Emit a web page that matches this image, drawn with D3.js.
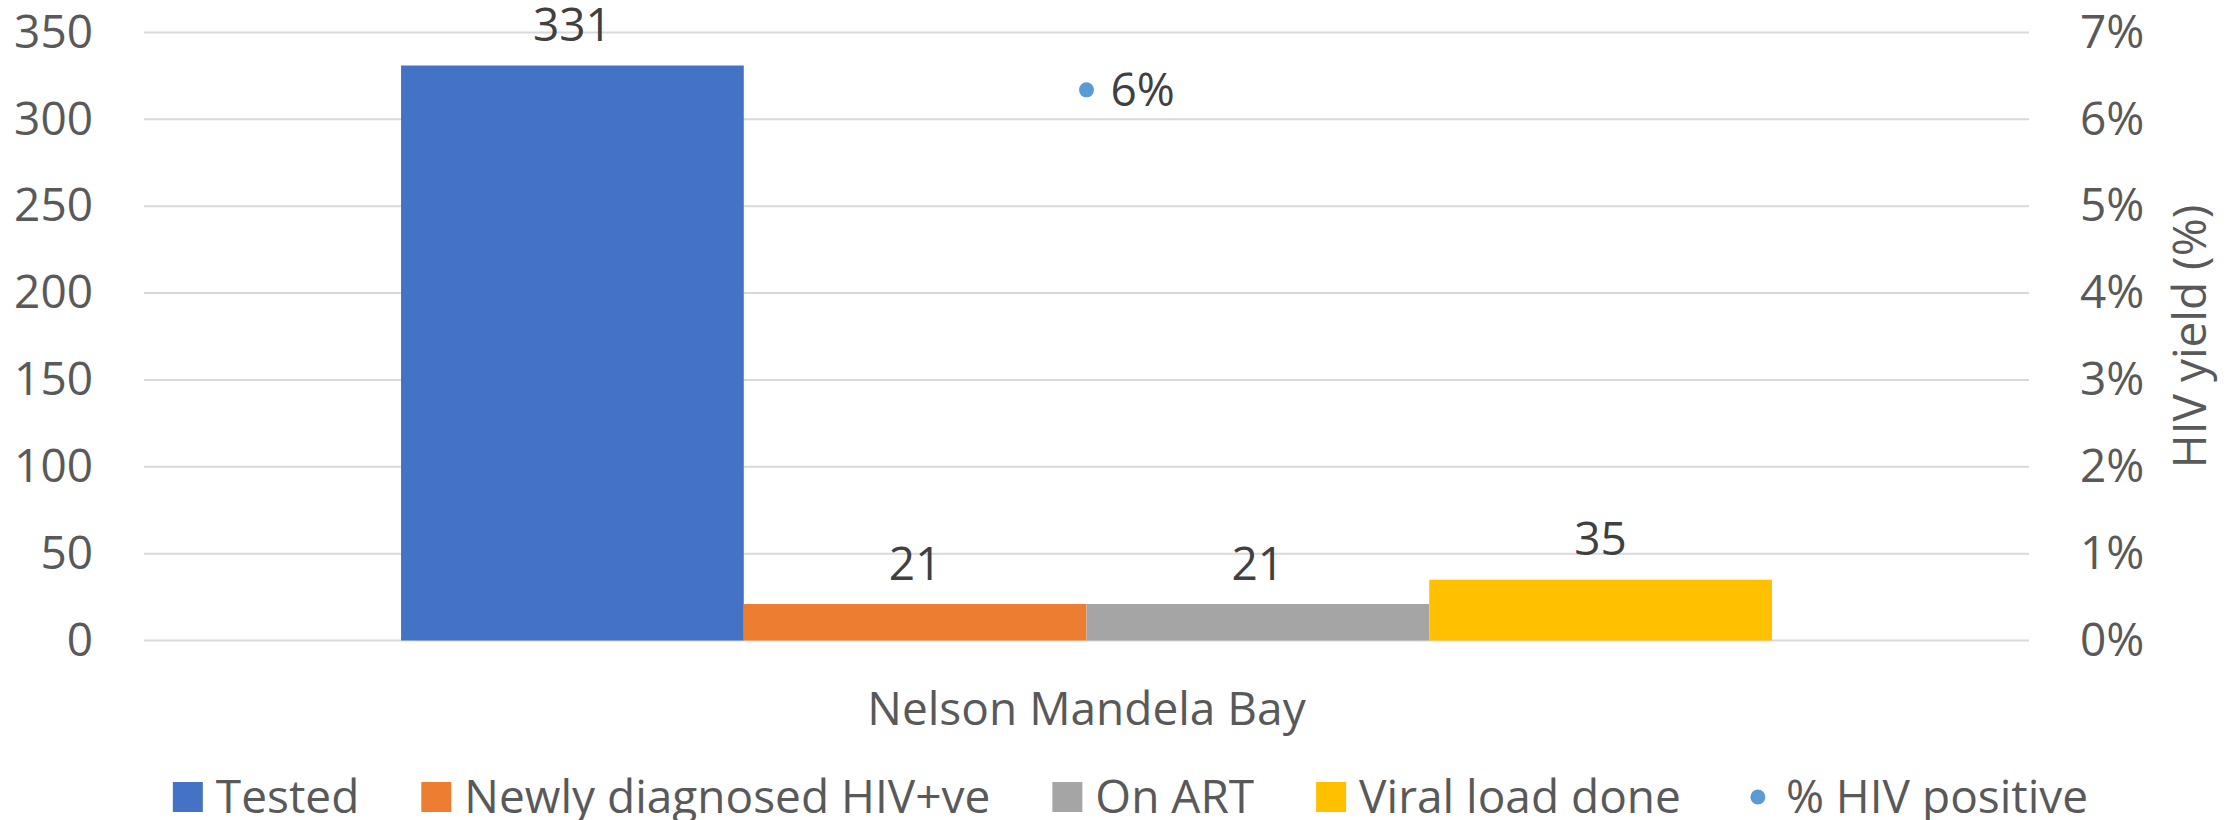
<!DOCTYPE html>
<html><head><meta charset="utf-8">
<script src="https://cdn.jsdelivr.net/npm/d3@7"></script>
<style>html,body{margin:0;padding:0;background:#fff;}svg{display:block;}</style>
</head><body><svg id="chart" width="2237" height="820"></svg>
<script>
const categories = ["Nelson Mandela Bay"];
const seriesNames = ["Tested", "Newly diagnosed HIV+ve", "On ART", "Viral load done"];
const tested = [331];
const newlyDiagnosed = [21];
const onART = [21];
const viralLoadDone = [35];
const pctPositive = [0.0634];
const pctLabels = ["6%"];
const leftTicks = [0, 50, 100, 150, 200, 250, 300, 350];
const rightTicks = [0, 0.01, 0.02, 0.03, 0.04, 0.05, 0.06, 0.07];
const colors = ["#4472C4", "#ED7D31", "#A5A5A5", "#FFC000"];
const dotColor = "#5B9BD5";
const lineName = "% HIV positive";
const rightTitle = "HIV yield (%)";

const svg = d3.select("#chart");
const FONT = "'Open Sans', sans-serif";
const FS = 46;
const m = {left: 144, right: 2029, top: 32.5, bottom: 640.5};

const x0 = d3.scaleBand().domain(categories).range([m.left, m.right]).paddingInner(0).paddingOuter(0);
const y = d3.scaleLinear().domain([0, 350]).range([m.bottom, m.top]);
const y2 = d3.scaleLinear().domain([0, 0.07]).range([m.bottom, m.top]);
// gap width 150%: bar width = band/(4+1.5)
const groupW = x0.bandwidth() * 4 / 5.5;
const x1 = d3.scaleBand().domain(seriesNames).range([0, groupW]).padding(0);

// gridlines
svg.append("g").selectAll("line").data(leftTicks).join("line")
  .attr("x1", m.left).attr("x2", m.right)
  .attr("y1", d => y(d)).attr("y2", d => y(d))
  .attr("stroke", "#D9D9D9").attr("stroke-width", 2);

// left axis
const la = svg.append("g").attr("transform", `translate(${m.left},0)`)
  .call(d3.axisLeft(y).tickValues(leftTicks).tickSize(0).tickPadding(51));
la.select(".domain").remove();
la.selectAll("text").attr("font-family", FONT).attr("font-size", FS).attr("fill", "#595959");

// right axis
const ra = svg.append("g").attr("transform", `translate(${m.right},0)`)
  .call(d3.axisRight(y2).tickValues(rightTicks).tickFormat(d3.format(".0%")).tickSize(0).tickPadding(51));
ra.select(".domain").remove();
ra.selectAll("text").attr("font-family", FONT).attr("font-size", FS).attr("fill", "#595959");

// right axis title
svg.append("text").attr("transform", `translate(2190,${(m.top+m.bottom)/2}) rotate(-90)`)
  .attr("text-anchor", "middle").attr("dy", "0.35em")
  .attr("font-family", FONT).attr("font-size", FS).attr("fill", "#595959").text(rightTitle);

// bars
const seriesData = [tested, newlyDiagnosed, onART, viralLoadDone];
categories.forEach((c, ci) => {
  const gx = x0(c) + (x0.bandwidth() - groupW) / 2;
  const g = svg.append("g").attr("transform", `translate(${gx},0)`);
  seriesNames.forEach((s, si) => {
    const v = seriesData[si][ci];
    g.append("rect").attr("x", x1(s)).attr("width", x1.bandwidth())
      .attr("y", y(v)).attr("height", y(0) - y(v)).attr("fill", colors[si]);
    g.append("text").attr("x", x1(s) + x1.bandwidth() / 2).attr("y", y(v) - 24.5)
      .attr("text-anchor", "middle").attr("font-family", FONT).attr("font-size", FS)
      .attr("fill", "#404040").text(v);
  });
  // % positive dot
  const cx = x0(c) + x0.bandwidth() / 2;
  svg.append("circle").attr("cx", cx).attr("cy", y2(pctPositive[ci])).attr("r", 7.5).attr("fill", dotColor);
  svg.append("text").attr("x", cx + 24).attr("y", y2(pctPositive[ci])).attr("dy", "0.35em")
    .attr("font-family", FONT).attr("font-size", FS).attr("fill", "#404040").text(pctLabels[ci]);
});

// category axis label
svg.append("g").attr("transform", `translate(0,${m.bottom})`)
  .call(d3.axisBottom(x0).tickSize(0).tickPadding(52))
  .call(g => g.select(".domain").remove())
  .selectAll("text").attr("font-family", FONT).attr("font-size", FS).attr("fill", "#595959");

// legend
const legendItems = seriesNames.map((n, i) => ({name: n, color: colors[i], type: "rect"}))
  .concat([{name: lineName, color: dotColor, type: "dot"}]);
const lg = svg.append("g");
let lx = 0;
const ly = 797;
const positions = [];
legendItems.forEach(it => {
  const g = lg.append("g").attr("transform", `translate(${lx},0)`);
  if (it.type === "rect") {
    g.append("rect").attr("x", 0).attr("y", ly - 15).attr("width", 30).attr("height", 30).attr("fill", it.color);
  } else {
    g.append("circle").attr("cx", 15).attr("cy", ly).attr("r", 7.5).attr("fill", it.color);
  }
  const t = g.append("text").attr("x", 43).attr("y", ly).attr("dy", "0.35em")
    .attr("font-family", FONT).attr("font-size", FS).attr("fill", "#595959").text(it.name);
  const w = t.node().getComputedTextLength();
  lx += 43 + w + 62;
});
const totalW = lx - 62;
lg.attr("transform", `translate(${(168 + 2093) / 2 - totalW / 2},0)`);
</script></body></html>
